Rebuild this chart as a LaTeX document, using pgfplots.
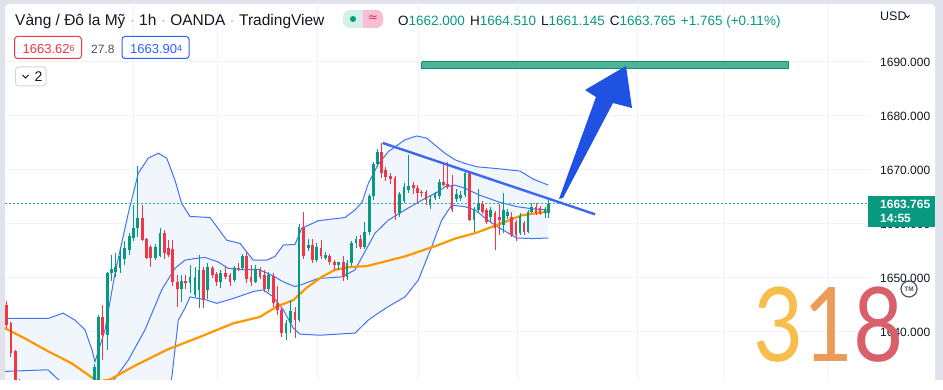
\documentclass[border=0pt]{standalone}
\usepackage{fontspec}
\setmainfont{Liberation Sans}
\newfontfamily\djv{DejaVu Sans}
\newfontfamily\logofont{Lato}
\usepackage{graphicx}
\usepackage{pgfplots}
\pgfplotsset{compat=1.18}
\usepackage{pgfplotstable}
\definecolor{framec}{HTML}{E0E3EB}
\definecolor{gridc}{HTML}{F0F3FA}
\definecolor{txt}{HTML}{131722}
\definecolor{grn}{HTML}{089981}
\definecolor{dotc}{HTML}{22B39A}
\definecolor{redc}{HTML}{F23645}
\definecolor{bandl}{HTML}{4073F5}
\definecolor{bandf}{HTML}{F1F6FD}
\definecolor{orng}{HTML}{FF9800}
\definecolor{trend}{HTML}{3B68EE}
\definecolor{arrowc}{HTML}{1F51E3}
\definecolor{boxf}{HTML}{4DB596}
\definecolor{boxd}{HTML}{0B8F70}
\definecolor{sepc}{HTML}{B2B5BE}
\definecolor{pillg}{HTML}{D5F0E8}
\definecolor{pillp}{HTML}{F7C0D2}
\definecolor{magc}{HTML}{E91E63}
\definecolor{greyt}{HTML}{50535E}
\definecolor{bluet}{HTML}{2962FF}
\definecolor{greyb}{HTML}{D1D4DC}
\definecolor{lg3}{HTML}{F8BE4D}
\definecolor{lg1}{HTML}{EC9B5A}
\definecolor{lg8}{HTML}{D9606B}

\pgfplotstableread{
x o h l c
94.3 1630.5 1634.0 1629.0 1633.5
98.3 1630.0 1643.1 1629.0 1642.8
107.3 1639.4 1651.2 1636.7 1650.9
111.7 1650.9 1654.3 1649.5 1651.7
115.7 1651.2 1654.6 1650.2 1652.1
120.0 1651.8 1655.5 1651.0 1654.0
124.3 1653.6 1656.8 1652.4 1655.5
129.3 1655.2 1658.4 1654.3 1657.7
133.3 1657.5 1663.5 1656.8 1659.2
137.7 1659.2 1670.7 1657.6 1661.2
155.7 1653.8 1656.3 1653.3 1655.8
160.0 1654.0 1659.2 1653.8 1658.3
181.7 1647.9 1650.5 1645.5 1649.5
190.0 1649.0 1652.4 1647.2 1650.2
195.0 1646.9 1652.1 1646.5 1650.2
199.0 1647.8 1654.3 1644.4 1651.5
207.3 1647.8 1652.8 1646.2 1652.1
220.7 1649.3 1651.5 1648.1 1650.9
234.3 1649.6 1652.2 1649.3 1651.8
242.7 1651.8 1654.4 1651.5 1654.0
255.3 1649.3 1652.4 1649.0 1651.6
268.7 1647.9 1651.2 1647.5 1650.6
286.0 1639.8 1642.2 1638.5 1641.6
290.3 1641.6 1645.9 1639.8 1643.8
299.0 1642.2 1660.0 1641.8 1659.5
308.3 1655.5 1657.3 1655.0 1656.1
316.3 1653.3 1656.5 1653.0 1655.8
325.7 1653.8 1654.9 1653.3 1654.3
338.3 1652.4 1653.0 1651.5 1652.9
347.0 1650.2 1653.3 1649.6 1652.8
351.7 1652.8 1656.9 1652.3 1656.4
356.0 1656.4 1657.7 1655.5 1657.2
364.3 1655.8 1660.4 1655.3 1658.6
369.3 1658.6 1665.5 1657.9 1665.2
373.3 1665.2 1671.5 1664.5 1671.2
377.3 1671.2 1673.8 1670.5 1673.4
399.3 1662.0 1666.0 1661.3 1665.5
404.0 1664.3 1667.5 1663.8 1666.9
408.3 1666.3 1672.8 1665.8 1667.0
430.0 1663.6 1665.2 1662.7 1664.7
435.0 1664.9 1666.0 1664.5 1665.5
439.3 1665.2 1668.3 1664.7 1667.8
456.7 1664.6 1666.4 1664.0 1665.6
460.7 1664.8 1666.2 1664.2 1665.4
465.0 1665.4 1669.8 1665.0 1669.4
474.0 1660.7 1663.2 1658.6 1662.7
478.3 1662.6 1666.5 1662.2 1663.8
490.7 1661.3 1663.1 1660.4 1662.6
503.3 1659.8 1665.7 1658.3 1662.6
507.3 1661.4 1662.8 1661.0 1662.3
520.0 1658.3 1662.0 1657.9 1661.5
528.0 1658.6 1662.6 1658.3 1662.3
531.7 1662.3 1663.9 1662.0 1663.2
545.0 1662.0 1663.2 1661.1 1662.7
548.7 1662.0 1664.51 1661.145 1663.765
}\upc

\pgfplotstableread{
x o h l c
6.7 1645.0 1645.7 1640.8 1641.3
10.9 1641.6 1641.9 1635.4 1636.2
15.1 1636.4 1636.6 1629.0 1630.0
19.3 1630.5 1631.3 1628.0 1629.0
102.3 1642.8 1645.0 1634.8 1639.4
142.3 1661.2 1663.5 1656.8 1657.0
146.7 1657.2 1657.5 1653.5 1653.8
150.7 1655.8 1656.2 1652.1 1653.8
164.3 1658.3 1658.9 1653.5 1654.6
168.3 1655.5 1657.0 1653.8 1654.3
172.3 1655.4 1657.0 1648.5 1649.3
177.3 1649.3 1650.5 1644.7 1647.9
185.7 1649.5 1650.5 1648.0 1649.1
203.3 1651.5 1652.0 1644.4 1646.2
212.3 1651.8 1652.3 1650.0 1650.6
216.7 1650.7 1651.2 1648.6 1649.3
225.7 1650.9 1652.1 1649.8 1650.2
230.0 1650.6 1651.0 1648.6 1649.3
238.7 1651.9 1652.7 1651.3 1651.7
246.7 1654.0 1654.9 1649.0 1649.9
251.0 1650.2 1652.4 1648.6 1649.3
260.0 1651.6 1652.1 1649.8 1650.2
264.3 1650.6 1651.5 1647.5 1647.9
273.3 1650.4 1651.0 1644.7 1645.3
277.7 1645.3 1648.5 1643.1 1644.1
281.7 1644.1 1644.4 1639.1 1639.8
295.0 1643.8 1644.6 1638.9 1642.2
303.3 1659.5 1662.3 1653.5 1654.0
312.3 1656.1 1657.3 1652.7 1653.3
321.0 1655.5 1657.0 1653.5 1654.0
329.3 1654.0 1654.4 1652.5 1653.0
334.3 1653.0 1653.3 1651.5 1652.4
343.3 1653.0 1654.1 1649.5 1650.2
360.3 1657.3 1658.0 1655.3 1655.8
381.7 1673.4 1675.0 1668.5 1669.4
385.7 1670.0 1670.6 1668.0 1668.8
390.7 1668.9 1669.5 1667.5 1668.3
395.0 1668.5 1668.8 1660.7 1662.0
413.3 1667.2 1667.8 1665.5 1666.6
417.3 1666.6 1667.2 1664.1 1665.7
421.7 1666.0 1666.3 1665.0 1665.7
426.0 1666.0 1666.3 1663.5 1664.4
443.3 1667.8 1671.1 1667.0 1667.3
447.3 1667.5 1671.4 1666.5 1666.9
452.0 1667.2 1669.0 1662.3 1662.6
469.3 1669.4 1669.7 1660.5 1660.7
482.7 1663.8 1664.2 1661.8 1662.3
486.7 1662.6 1663.0 1660.0 1660.4
495.0 1662.0 1662.5 1655.2 1659.2
499.3 1661.3 1663.8 1658.0 1660.7
511.7 1661.3 1662.3 1657.5 1658.0
516.0 1660.4 1660.8 1656.8 1658.0
524.0 1660.1 1660.5 1658.0 1658.6
536.0 1663.2 1663.8 1661.7 1662.0
540.0 1662.9 1663.4 1661.6 1662.0
}\dnc

\begin{document}
\begin{tikzpicture}
\begin{scope}[x=1pt,y=1pt]
\fill[framec] (0,0) rectangle (943,380);
\fill[white, rounded corners=4pt] (5,-10) rectangle (935,376);
\foreach \gx in {133,217,317,418,517,637,723,828} {\draw[gridc, line width=1pt] (\gx,0) -- (\gx,376);}
\foreach \gy in {48,102,156,210,264,318} {\draw[gridc, line width=1pt] (5,\gy) -- (870,\gy);}
\end{scope}

\begin{axis}[at={(0pt,0pt)}, anchor=south west, scale only axis, width=943pt, height=380pt,
  xmin=0, xmax=943, ymin=1631.11, ymax=1701.48, hide axis, clip=true]
% band fill: upper forward, lower backward
\addplot[fill=bandf, draw=none, forget plot] coordinates {
(5,1642.5) (48,1642.5) (63,1643.5) (75,1642.2) (85,1640.4) (92,1636.7) (95,1634.5) (105,1640.4) (115,1650.9) (128.3,1662.0) (138.3,1669.4) (148.3,1672.2) (158.3,1673.1) (166.7,1672.2) (175,1668.1) (181.7,1663.8) (190,1661.4) (210,1661.2) (226.7,1657.0) (240,1656.4) (253.3,1653.3) (266.7,1653.3) (275,1654.0) (283.3,1656.1) (295,1656.2) (301.7,1659.2) (318.3,1660.6) (345,1661.2) (355,1662.6) (362,1664.0) (368.3,1667.5) (378,1671.0) (388.3,1673.4) (405,1675.6) (416.7,1676.3) (426.7,1675.9) (435,1674.6) (445,1673.1) (455,1671.9) (465,1671.2) (476.7,1670.6) (500,1670.2) (520,1669.8) (533.3,1668.3) (548.3,1667.2)
(548.3,1657.4) (533,1657.3) (517,1657.4) (500,1659.2) (487,1660.8) (475,1662.6) (465,1663.2) (451.7,1663.5) (441.7,1660.7) (431.7,1655.8) (418.3,1649.6) (405,1646.5) (388.3,1644.7) (378.3,1643.5) (368.3,1642.2) (355,1639.8) (320,1639.4) (300,1639.6) (293.3,1640.7) (283.3,1644.1) (273.3,1646.5) (263.3,1647.8) (253.3,1647.5) (233.3,1646.2) (216.7,1645.3) (206.7,1645.9) (190,1646.5) (185,1644.4) (178.3,1642.2) (171.7,1631.4) (161.7,1623.1) (145,1608.8) (128,1607.6) (90,1617) (48,1623.5) (5,1622.9)};
% upper band
\addplot[bandl, line width=1pt] coordinates {
(5,1642.5) (48,1642.5) (63,1643.5) (75,1642.2) (85,1640.4) (92,1636.7) (95,1634.5) (105,1640.4) (115,1650.9) (128.3,1662.0) (138.3,1669.4) (148.3,1672.2) (158.3,1673.1) (166.7,1672.2) (175,1668.1) (181.7,1663.8) (190,1661.4) (210,1661.2) (226.7,1657.0) (240,1656.4) (253.3,1653.3) (266.7,1653.3) (275,1654.0) (283.3,1656.1) (295,1656.2) (301.7,1659.2) (318.3,1660.6) (345,1661.2) (355,1662.6) (362,1664.0) (368.3,1667.5) (378,1671.0) (388.3,1673.4) (405,1675.6) (416.7,1676.3) (426.7,1675.9) (435,1674.6) (445,1673.1) (455,1671.9) (465,1671.2) (476.7,1670.6) (500,1670.2) (520,1669.8) (533.3,1668.3) (548.3,1667.2)};
% lower band
\addplot[bandl, line width=1pt] coordinates {
(5,1622.9) (48,1623.5) (90,1617) (128,1607.6) (145,1608.8) (161.7,1623.1) (171.7,1631.4) (178.3,1642.2) (185,1644.4) (190,1646.5) (206.7,1645.9) (216.7,1645.3) (233.3,1646.2) (253.3,1647.5) (263.3,1647.8) (273.3,1646.5) (283.3,1644.1) (293.3,1640.7) (300,1639.6) (320,1639.4) (355,1639.8) (368.3,1642.2) (378.3,1643.5) (388.3,1644.7) (405,1646.5) (418.3,1649.6) (431.7,1655.8) (441.7,1660.7) (451.7,1663.5) (465,1663.2) (475,1662.6) (487,1660.8) (500,1659.2) (517,1657.4) (533,1657.3) (548.3,1657.4)};
% middle band
\addplot[bandl, line width=1pt] coordinates {
(5,1632.7) (48,1633.0) (57,1631.4) (70,1629.5) (90,1628) (105,1629.5) (115,1631.4) (128.3,1634.8) (145,1640.4) (161.7,1647.8) (175,1651.8) (185,1653.3) (195,1653.6) (205,1653.8) (218,1653.0) (228,1651.8) (245,1651.5) (258,1651.6) (267,1650.9) (275,1650.2) (283,1649.3) (295,1648.4) (302,1648.8) (318,1649.9) (342,1650.2) (355,1651.5) (375,1658.3) (388.3,1660.7) (405,1662.6) (421.7,1664.4) (438.3,1666.0) (445,1666.9) (455,1667.2) (465,1666.6) (480,1665.3) (500,1664.0) (517,1663.2) (533,1662.8) (548.3,1662.6)};
% moving average
\addplot[orng, line width=2.2pt] coordinates {
(5,1640.7) (25,1638.8) (48.3,1636.4) (71.7,1634.2) (93.3,1631.4) (100,1630.9) (110,1631.2) (133.3,1633.6) (166.7,1636.7) (200,1639.1) (233.3,1641.6) (260,1642.8) (276.7,1644.7) (293.3,1645.9) (306.7,1648.2) (321.7,1650.2) (335,1651.5) (348.3,1652.0) (366.7,1652.2) (405,1654.0) (438.3,1656.1) (455,1657.3) (475,1658.3) (488.3,1659.2) (505,1660.4) (521.7,1661.6) (548.3,1662.3)};
% last price line
\draw[dotc, line width=1.3pt, dash pattern=on 1.5pt off 2.5pt] (axis cs:5,1663.765) -- (axis cs:868,1663.765);
% candles
\addplot[draw=none, forget plot, error bars/.cd, y dir=both, y explicit, error mark=none,
  error bar style={draw=grn, line width=1pt}]
  table[x=x, y expr={(\thisrow{h}+\thisrow{l})/2}, y error expr={(\thisrow{h}-\thisrow{l})/2}] {\upc};
\addplot[draw=none, forget plot, error bars/.cd, y dir=both, y explicit, error mark=none,
  error bar style={draw=grn, line width=2.8pt}]
  table[x=x, y expr={(\thisrow{o}+\thisrow{c})/2}, y error expr={max(abs(\thisrow{c}-\thisrow{o})/2,0.09)}] {\upc};
\addplot[draw=none, forget plot, error bars/.cd, y dir=both, y explicit, error mark=none,
  error bar style={draw=redc, line width=1pt}]
  table[x=x, y expr={(\thisrow{h}+\thisrow{l})/2}, y error expr={(\thisrow{h}-\thisrow{l})/2}] {\dnc};
\addplot[draw=none, forget plot, error bars/.cd, y dir=both, y explicit, error mark=none,
  error bar style={draw=redc, line width=2.8pt}]
  table[x=x, y expr={(\thisrow{o}+\thisrow{c})/2}, y error expr={max(abs(\thisrow{c}-\thisrow{o})/2,0.09)}] {\dnc};
% trend line
\addplot[trend, line width=2.4pt] coordinates {(382.7,1675.0) (595,1661.8)};
% target zone
\addplot[fill=boxf, draw=boxd, line width=1pt] coordinates {(421.5,1690.05) (788.5,1690.05) (788.5,1688.85) (421.5,1688.85) (421.5,1690.05)};
\end{axis}

\begin{scope}[x=1pt,y=1pt]
% arrow
\fill[arrowc] (559,181) -- (596,283) -- (585,290) -- (626,314) -- (632,272) -- (613,277) -- (563,182) -- cycle;
% header row 1
\node[anchor=base west, inner sep=0, text=txt, font=\fontsize{15.5}{18}\selectfont] at (15,354.3)
  {Vàng / Đô la Mỹ {\color{sepc}·} 1h {\color{sepc}·} OANDA {\color{sepc}·} TradingView};
\fill[pillg, rounded corners=7pt] (343,352) rectangle (383,370);
\begin{scope}
\clip (363,340) rectangle (390,380);
\fill[pillp, rounded corners=7pt] (343,352) rectangle (383,370);
\end{scope}
\fill[grn] (353,361) circle (3);
\node[text=magc, inner sep=0, font=\djv\fontsize{12}{12}\selectfont] at (373,361) {≈};
\node[anchor=base west, inner sep=0, font=\fontsize{13.5}{16}\selectfont] at (398,354.3)
  {{\color{txt}O}{\color{grn}1662.000}\hspace{5pt}{\color{txt}H}{\color{grn}1664.510}\hspace{5pt}{\color{txt}L}{\color{grn}1661.145}\hspace{5pt}{\color{txt}C}{\color{grn}1663.765}\hspace{5pt}{\color{grn}+1.765 (+0.11\%)}};
% header row 2
\draw[redc, line width=1pt, rounded corners=3pt] (14.5,321.5) rectangle (81.5,343.5);
\node[anchor=base west, inner sep=0, text=redc, font=\fontsize{13}{13}\selectfont] at (22.5,326)
  {1663.62\raisebox{2.5pt}{\fontsize{9}{9}\selectfont 6}};
\node[anchor=base west, inner sep=0, text=greyt, font=\fontsize{12}{12}\selectfont] at (91,326) {27.8};
\draw[bluet, line width=1pt, rounded corners=3pt] (122,321.5) rectangle (189,343.5);
\node[anchor=base west, inner sep=0, text=bluet, font=\fontsize{13}{13}\selectfont] at (130,326)
  {1663.90\raisebox{2.5pt}{\fontsize{9}{9}\selectfont 4}};
% header row 3
\draw[greyb, line width=1pt, rounded corners=3pt] (15.5,294) rectangle (46,313);
\draw[txt, line width=1pt] (22.5,305) -- (25.5,302) -- (28.5,305);
\node[anchor=base west, inner sep=0, text=txt, font=\fontsize{14}{14}\selectfont] at (34.5,298.5) {2};
% USD
\node[anchor=base west, inner sep=0, text=txt, font=\fontsize{12.5}{12.5}\selectfont] at (880,359) {USD};
\draw[txt, line width=0.8pt] (905.5,364.5) -- (907.5,362.5) -- (909.5,364.5);
% price labels
\foreach \yy/\lab in {318/1690.000, 264/1680.000, 210/1670.000, 156/1660.000, 102/1650.000, 48/1640.000}
  {\node[anchor=west, inner sep=0, text=txt, font=\fontsize{12}{12}\selectfont] at (880,\yy) {\lab};}
% price tag
\fill[grn] (868,153) rectangle (935,184);
\node[anchor=base west, inner sep=0, text=white, font=\bfseries\fontsize{12}{12}\selectfont] at (880,171.5) {1663.765};
\node[anchor=base west, inner sep=0, text=white, font=\bfseries\fontsize{12}{12}\selectfont] at (880,157.5) {14:55};
% logo
\node[anchor=base west, inner sep=0] at (753,18)
  {\scalebox{0.84}[1]{\logofont\fontsize{103}{103}\selectfont\color{lg3}3\color{lg1}1\color{lg8}8}};
\draw[greyt, line width=1.2pt] (909,91) circle (8);
\node[text=greyt, inner sep=0, font=\bfseries\fontsize{6.5}{6.5}\selectfont] at (909,91) {TM};
\path[use as bounding box] (0,0) rectangle (943,380);
\end{scope}
\end{tikzpicture}
\end{document}
